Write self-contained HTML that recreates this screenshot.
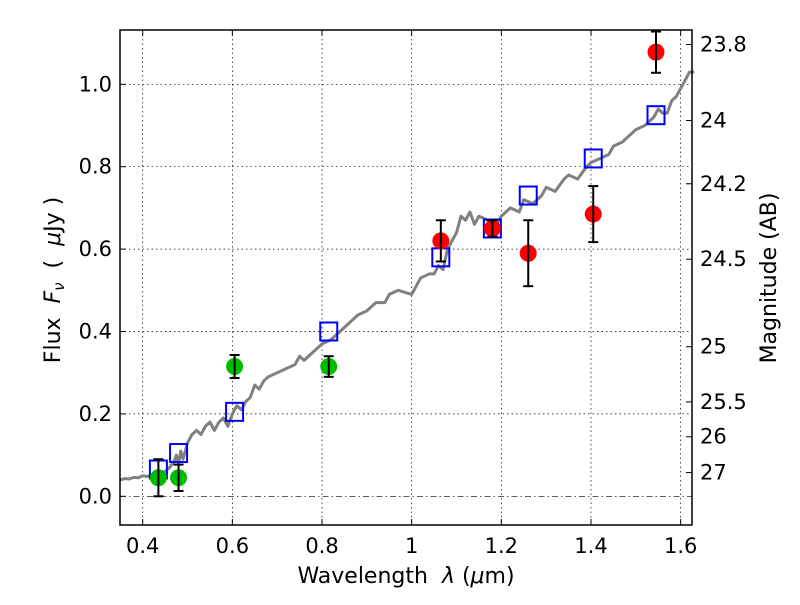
<!DOCTYPE html>
<html><head><meta charset="utf-8"><style>
body{margin:0;background:#fff;}
svg text{font-family:"DejaVu Sans","Liberation Sans",sans-serif;fill:#000;}
</style></head><body>
<svg id="chart" width="800" height="600" xmlns="http://www.w3.org/2000/svg">
<rect width="800" height="600" fill="#fff"/>
<g id="grid"></g>
<g id="marks"></g>
<g id="axes"></g>
</svg>
<script>
const xTicks=[0.4,0.6,0.8,1,1.2,1.4,1.6];
const xTickLabels=["0.4","0.6","0.8","1","1.2","1.4","1.6"];
const yTicks=[0,0.2,0.4,0.6,0.8,1.0];
const yTickLabels=["0.0","0.2","0.4","0.6","0.8","1.0"];
const magTicks=[23.8,24,24.2,24.5,25,25.5,26,27];
const magTickLabels=["23.8","24","24.2","24.5","25","25.5","26","27"];
const greenX=[0.435,0.48,0.605,0.815];
const greenY=[0.045,0.045,0.315,0.315];
const greenErr=[0.045,0.032,0.028,0.025];
const redX=[1.065,1.18,1.26,1.405,1.545];
const redY=[0.62,0.65,0.59,0.685,1.078];
const redErr=[0.05,0.02,0.08,0.068,0.05];
const modelX=[0.435,0.48,0.605,0.815,1.065,1.18,1.26,1.405,1.545];
const modelY=[0.065,0.105,0.205,0.40,0.58,0.65,0.73,0.82,0.925];
const specX=[0.35,0.36,0.37,0.38,0.39,0.40,0.41,0.42,0.43,0.44,0.45,0.46,0.47,0.475,0.48,0.485,0.49,0.5,0.51,0.52,0.53,0.54,0.55,0.56,0.57,0.58,0.59,0.6,0.61,0.62,0.63,0.64,0.65,0.66,0.67,0.68,0.7,0.72,0.74,0.75,0.76,0.78,0.8,0.82,0.84,0.85,0.86,0.88,0.9,0.92,0.94,0.95,0.97,1.0,1.02,1.04,1.05,1.06,1.07,1.08,1.09,1.1,1.11,1.12,1.13,1.14,1.15,1.17,1.19,1.2,1.22,1.24,1.25,1.27,1.29,1.3,1.32,1.34,1.35,1.37,1.39,1.4,1.42,1.44,1.45,1.47,1.49,1.5,1.52,1.53,1.54,1.55,1.56,1.57,1.58,1.59,1.6,1.61,1.62,1.63];
const specY=[0.04,0.043,0.042,0.046,0.045,0.05,0.048,0.052,0.05,0.058,0.06,0.07,0.085,0.10,0.08,0.11,0.09,0.13,0.15,0.16,0.15,0.17,0.18,0.16,0.18,0.19,0.17,0.20,0.22,0.21,0.23,0.24,0.27,0.26,0.28,0.29,0.30,0.31,0.32,0.34,0.33,0.35,0.37,0.38,0.40,0.41,0.42,0.44,0.45,0.47,0.47,0.49,0.50,0.49,0.53,0.54,0.54,0.56,0.55,0.60,0.62,0.64,0.68,0.67,0.69,0.66,0.68,0.67,0.66,0.68,0.70,0.69,0.72,0.71,0.73,0.75,0.74,0.77,0.78,0.77,0.80,0.81,0.82,0.83,0.85,0.86,0.88,0.89,0.90,0.91,0.92,0.94,0.93,0.93,0.96,0.97,0.99,1.01,1.03,1.03];
const L=120,R=692,T=30,B=525;
const x=v=>142.7+(v-0.4)*448.3;
const y=v=>496.3-v*412;
const magToFlux=m=>Math.pow(10,(23.9-m)/2.5);
const NS="http://www.w3.org/2000/svg";
function mk(p,tag,a){const e=document.createElementNS(NS,tag);for(const k in a)e.setAttribute(k,a[k]);p.appendChild(e);return e;}
const grid=document.getElementById('grid'),marks=document.getElementById('marks'),axes=document.getElementById('axes');
xTicks.forEach(t=>{const l=mk(grid,'line',{x1:x(t),x2:x(t),y1:T,y2:B,stroke:'#000','stroke-width':0.7,'stroke-dasharray':'1.5,3'});
});
yTicks.forEach(t=>{const l=mk(grid,'line',{x1:L,x2:R,y1:y(t),y2:y(t),stroke:'#000','stroke-width':0.7,'stroke-dasharray':t===0?'6,3,1.5,3':'1.5,3'});
});
const sp=mk(marks,'polyline',{points:specX.map((v,i)=>x(v)+','+y(specY[i])).join(' '),fill:'none',stroke:'#808080','stroke-width':3,'stroke-linejoin':'round'});

function pts(X,Y,E,col,name){X.forEach((v,i)=>{const g=mk(marks,'g',{});

mk(g,'circle',{cx:x(v),cy:y(Y[i]),r:8.5,fill:col});
const y1=y(Y[i]+E[i]),y2=y(Y[i]-E[i]);
mk(g,'line',{x1:x(v),x2:x(v),y1:y1,y2:y2,stroke:'#000','stroke-width':2});
mk(g,'line',{x1:x(v)-5,x2:x(v)+5,y1:y1,y2:y1,stroke:'#000','stroke-width':2});
mk(g,'line',{x1:x(v)-5,x2:x(v)+5,y1:y2,y2:y2,stroke:'#000','stroke-width':2});});}
modelX.forEach((v,i)=>{const r=mk(marks,'rect',{x:x(v)-8.5,y:y(modelY[i])-9,width:17,height:18,fill:'none',stroke:'#0000ff','stroke-width':2});
});
pts(greenX,greenY,greenErr,'#00bb00','green-data-point');
pts(redX,redY,redErr,'#ff0000','red-data-point');
const fr=mk(axes,'rect',{x:L,y:T,width:R-L,height:B-T,fill:'none',stroke:'#000','stroke-width':1.5});

xTicks.forEach((t,i)=>{mk(axes,'line',{x1:x(t),x2:x(t),y1:B,y2:B-6,stroke:'#000'});mk(axes,'line',{x1:x(t),x2:x(t),y1:T,y2:T+6,stroke:'#000'});
const tx=mk(axes,'text',{x:x(t),y:B+28,'font-size':21,'text-anchor':'middle'});tx.textContent=xTickLabels[i];
});
yTicks.forEach((t,i)=>{mk(axes,'line',{x1:L,x2:L+6,y1:y(t),y2:y(t),stroke:'#000'});
const tx=mk(axes,'text',{x:L-8,y:y(t)+7,'font-size':21,'text-anchor':'end'});tx.textContent=yTickLabels[i];
});
magTicks.forEach((m,i)=>{const yy=y(magToFlux(m));mk(axes,'line',{x1:R,x2:R-6,y1:yy,y2:yy,stroke:'#000'});
const tx=mk(axes,'text',{x:R+8,y:yy+7,'font-size':21});tx.textContent=magTickLabels[i];
});
</script>
<svg width="800" height="600" style="position:absolute;left:0;top:0;pointer-events:none" xmlns="http://www.w3.org/2000/svg">
<text x="406" y="583" font-size="22" text-anchor="middle" style="font-family:'DejaVu Sans',sans-serif">Wavelength&#160;&#160;<tspan font-style="italic">λ</tspan> (<tspan font-style="italic">μ</tspan>m)</text>
<text transform="translate(60,280) rotate(-90)" font-size="22" text-anchor="middle" style="font-family:'DejaVu Sans',sans-serif">Flux&#160;&#160;<tspan font-style="italic">F<tspan font-size="15" dy="4">ν</tspan></tspan><tspan dy="-4">&#160;&#160;(&#160;&#160;</tspan><tspan font-style="italic">μ</tspan>Jy )</text>
<text transform="translate(776,278) rotate(-90)" font-size="22" text-anchor="middle" style="font-family:'DejaVu Sans',sans-serif">Magnitude (AB)</text>
</svg>
</body></html>
